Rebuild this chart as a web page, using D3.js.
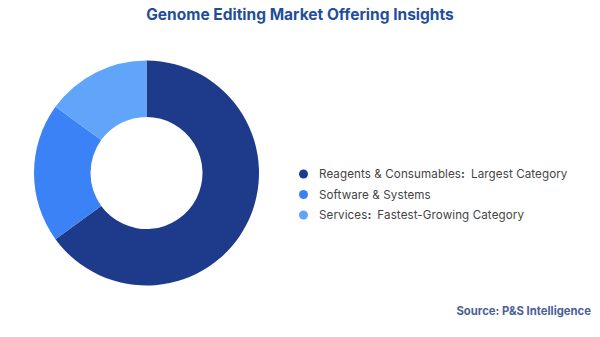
<!DOCTYPE html>
<html><head><meta charset="utf-8">
<script src="https://cdn.jsdelivr.net/npm/d3@7"></script>
<style>body{margin:0;background:#fff;} svg{display:block;font-family:Inter, "Open Sans", sans-serif;}</style>
</head><body><svg id="c" width="600" height="337"></svg>
<script>
const categories = ["Reagents & Consumables", "Software & Systems", "Services"];
const notes = ["Largest Category", "", "Fastest-Growing Category"];
const values = [65, 20, 15];
const colors = ["#1e3a8a", "#3b82f6", "#60a5fa"];

const svg = d3.select("#c");
svg.append("text").attr("x", 300).attr("y", 20).attr("text-anchor", "middle")
  .attr("font-size", 15.5).attr("font-weight", 700).attr("fill", "#1f4e9c")
  .text("Genome Editing Market Offering Insights");

const pie = d3.pie().sort(null).value(d => d)(values);
const arc = d3.arc().innerRadius(56).outerRadius(112.5);
const g = svg.append("g").attr("transform", "translate(146.5,173)");
g.selectAll("path").data(pie).join("path").attr("d", arc).attr("fill", (d, i) => colors[i]);

const color = d3.scaleOrdinal().domain(categories).range(colors);
const y = d3.scalePoint().domain(categories).range([174, 215]);
const lg = svg.append("g");
const items = lg.selectAll("g").data(categories).join("g").attr("transform", d => `translate(0,${y(d)})`);
items.append("circle").attr("cx", 303.5).attr("cy", 0).attr("r", 4.5).attr("fill", d => color(d));
const t = items.append("text").attr("x", 319).attr("y", 4).attr("font-size", 11.6).attr("letter-spacing", 0.1).attr("fill", "#444");
t.append("tspan").text(d => d);
t.filter((d, i) => notes[i]).append("tspan").attr("font-weight", 700).text(":");
t.filter((d, i) => notes[i]).append("tspan").attr("dx", 6).text((d) => notes[categories.indexOf(d)]);

svg.append("text").attr("x", 591).attr("y", 315).attr("text-anchor", "end")
  .attr("font-size", 11.3).attr("font-weight", 700).attr("fill", "#4a5f97")
  .text("Source: P&S Intelligence");
</script></body></html>
